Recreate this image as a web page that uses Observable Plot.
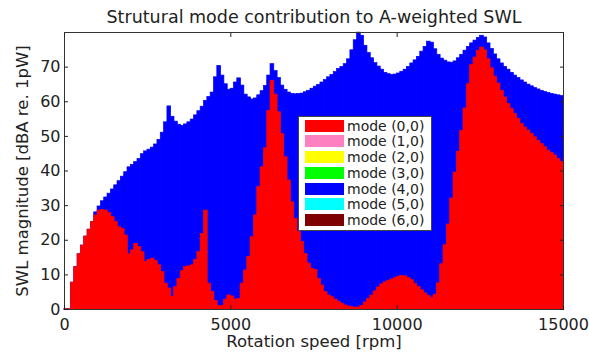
<!DOCTYPE html>
<html><head><meta charset="utf-8">
<script src="https://cdn.jsdelivr.net/npm/d3@7"></script>
<script src="https://cdn.jsdelivr.net/npm/@observablehq/plot@0.6"></script>
<style>
body{margin:0;background:#fff;}
#wrap{position:relative;width:589px;height:356px;font-family:"DejaVu Sans",sans-serif;}
#legend{position:absolute;left:298px;top:116px;width:134px;height:115px;border:1px solid #444;background:#fff;box-sizing:border-box;}
.row{position:absolute;left:6px;height:12px;display:flex;align-items:center;}
.sw{width:39px;height:12px;}
.lab{margin-left:3px;font-size:14px;color:#222;white-space:nowrap;line-height:12px;}
</style></head>
<body><div id="wrap"></div>
<script>
const title = "Strutural mode contribution to A-weighted SWL";
const xLabel = "Rotation speed [rpm]";
const yLabel = "SWL magnitude [dBA re. 1pW]";
const modeNames = ["mode (0,0)", "mode (1,0)", "mode (2,0)", "mode (3,0)", "mode (4,0)", "mode (5,0)", "mode (6,0)"];
const modeColors = ["#ff0000", "#ff80c0", "#ffff00", "#00ff00", "#0000ff", "#00ffff", "#7f0000"];
const xTicks = [0, 5000, 10000, 15000];
const yTicks = [0, 10, 20, 30, 40, 50, 60, 70];
const rpmStep = 100;

// mode (0,0) contribution, rpm 0 .. 14900 step 100
const mode00 = [
  0, 0, 7.7, 12.2, 15.9, 18.4, 21, 23, 25.2, 27.1,
  28.5, 28.7, 28.5, 27.8, 26.6, 25.2, 23.7, 23.2, 21.3, 15.9,
  17, 18.9, 18, 16.5, 13.6, 14.3, 14.6, 13.9, 12.7, 10.8,
  7.4, 6, 3.6, 6.4, 8.8, 11, 12.2, 12.4, 12.7, 14.3,
  16.5, 21.8, 28.5, 7.4, 5, 2.4, 0.9, 1, 2.8, 4,
  3.7, 2.8, 3, 7.4, 11.2, 15.1, 20.8, 27.1, 35.3, 41,
  46.5, 57.3, 66, 62, 56.9, 50.6, 43.9, 37.2, 30.9, 26.1,
  22.3, 19.4, 16, 13.2, 11.7, 11.4, 8.8, 6.9, 5, 4,
  3.5, 2.8, 2.2, 1.6, 1.1, 0.8, 0.6, 0.5, 0.5, 1,
  2, 3, 4, 5.2, 6.3, 7.2, 7.8, 8.2, 8.6, 9,
  9.4, 9.6, 9.5, 9, 8.4, 7.4, 6.4, 5.5, 4.6, 3.8,
  3.2, 4.2, 7.5, 13, 18.5, 24.5, 32, 39.5, 45.5, 51.5,
  58, 65, 70.5, 72.7, 74.6, 75.6, 74.8, 72.2, 69.6, 67.2,
  65.2, 63.1, 61.2, 59.3, 57.8, 56.4, 55, 53.5, 52.5, 51.6,
  50.6, 49.7, 48.7, 47.7, 46.8, 45.8, 45.1, 44.4, 43.4, 42.5
];

// total A-weighted SWL (sum of all modes), rpm 0 .. 14900 step 100
const totalSWL = [
  0, 0, 7.7, 12.2, 15.9, 18.4, 21, 23, 25.2, 28,
  29.7, 31.2, 32.3, 33.4, 34.6, 35.8, 37, 38.3, 39.6, 41,
  41.7, 42.5, 43.4, 44.8, 45.6, 46.1, 46.7, 47.6, 48.9, 51,
  54, 58.6, 55.6, 54.2, 53.3, 53, 53.4, 54, 54.8, 56,
  57.2, 58.5, 60.2, 61.3, 62.6, 67, 70.3, 67.5, 65, 63.4,
  63.7, 65.5, 66.7, 64.6, 62, 61.2, 60.6, 60.9, 61.8, 63,
  64.5, 67.5, 70.8, 68.8, 66.8, 64.6, 63.4, 62.6, 62.2, 62.1,
  62.2, 62.3, 62.7, 63.1, 63.7, 64.3, 64.8, 65.5, 66.2, 67,
  67.7, 68.5, 69.4, 70, 70.8, 72.2, 74.8, 77.7, 79.9, 79,
  76.1, 74, 72.5, 71.1, 70.1, 69.2, 68.3, 67.9, 67.7, 67.8,
  68.1, 68.6, 69.2, 70, 71, 71.9, 72.9, 74.4, 75.8, 77.3,
  77, 75.1, 73.5, 72.4, 71.8, 71.3, 71.2, 71.6, 72.5, 73.5,
  74.7, 75.8, 76.8, 77.6, 78.4, 79, 78.5, 76.8, 75.2, 73.6,
  72.2, 71, 70, 69.2, 68.3, 67.5, 66.8, 66.1, 65.5, 64.9,
  64.4, 63.9, 63.5, 63.1, 62.8, 62.5, 62.2, 62, 61.8, 61.6
];

const rows = mode00.map((v, i) => ({rpm: i * rpmStep, red: v, total: totalSWL[i]}));

const chart = Plot.plot({
  width: 589, height: 356,
  marginLeft: 64, marginRight: 26, marginTop: 32, marginBottom: 47,
  style: {fontFamily: "DejaVu Sans, sans-serif", fontSize: "16px", color: "#222", background: "white"},
  x: {domain: [0, 15000]},
  y: {domain: [0, 80]},
  marks: [
    Plot.rectY(rows, {x: "rpm", interval: rpmStep, y: "total", fill: modeColors[4], stroke: modeColors[4], strokeWidth: 0.7, inset: -0.2}),
    Plot.rectY(rows, {x: "rpm", interval: rpmStep, y: "red", fill: modeColors[0], stroke: modeColors[0], strokeWidth: 0.7, inset: -0.2}),
    Plot.frame({stroke: "#333"}),
    Plot.axisX({ticks: xTicks, tickFormat: d3.format("d"), tickSize: -4, tickPadding: 13, label: null, fontSize: 16}),
    Plot.axisX({anchor: "top", ticks: xTicks, tickSize: -4, tickFormat: () => "", label: null}),
    Plot.axisY({ticks: yTicks, tickSize: -4, tickPadding: 8, label: null, fontSize: 16}),
    Plot.axisY({anchor: "right", ticks: yTicks, tickSize: -4, tickFormat: () => "", label: null}),
    Plot.text([title], {frameAnchor: "top", lineAnchor: "middle", textAnchor: "middle", dy: -15, fontSize: 17.5, text: d => d}),
    Plot.text([xLabel], {frameAnchor: "bottom", lineAnchor: "middle", textAnchor: "middle", dy: 32, fontSize: 16.5, text: d => d}),
    Plot.text([yLabel], {frameAnchor: "left", lineAnchor: "middle", textAnchor: "middle", dx: -42, rotate: -90, fontSize: 16.5, text: d => d})
  ]
});
const wrap = document.getElementById("wrap");
wrap.appendChild(chart);

const legend = document.createElement("div");
legend.id = "legend";
modeNames.forEach((name, i) => {
  const row = document.createElement("div");
  row.className = "row";
  row.style.top = (2.7 + 15.7 * i) + "px";
  const sw = document.createElement("div");
  sw.className = "sw";
  sw.style.background = modeColors[i];
  const lab = document.createElement("span");
  lab.className = "lab";
  lab.textContent = name;
  row.appendChild(sw); row.appendChild(lab);
  legend.appendChild(row);
});
wrap.appendChild(legend);
</script>
</body></html>
